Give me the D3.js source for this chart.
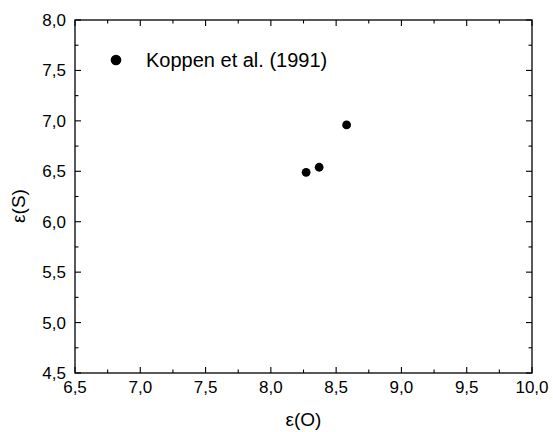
<!DOCTYPE html>
<html>
<head>
<meta charset="utf-8">
<script src="https://cdn.jsdelivr.net/npm/d3@7"></script>
<style>
  html, body { margin: 0; padding: 0; background: #fff; }
  svg { display: block; }
  text { font-family: "Liberation Sans", Arial, sans-serif; fill: #000; }
</style>
</head>
<body>
<svg id="chart" width="553" height="432"></svg>
<script>
// Koppen et al. (1991) measurements
const epsO = [8.27, 8.37, 8.58];
const epsS = [6.49, 6.54, 6.96];
const seriesLabel = "Koppen et al. (1991)";
const xTicks = [6.5, 7.0, 7.5, 8.0, 8.5, 9.0, 9.5, 10.0];
const yTicks = [4.5, 5.0, 5.5, 6.0, 6.5, 7.0, 7.5, 8.0];
const xMinor = [6.75, 7.25, 7.75, 8.25, 8.75, 9.25, 9.75];
const yMinor = [4.75, 5.25, 5.75, 6.25, 6.75, 7.25, 7.75];

const svg = d3.select("#chart");
const m = { left: 75, right: 532, top: 20, bottom: 373 };

const x = d3.scaleLinear().domain([6.5, 10.0]).range([m.left, m.right]);
const y = d3.scaleLinear().domain([4.5, 8.0]).range([m.bottom, m.top]);

const fmt = d => d3.format(".1f")(d).replace(".", ",");

// frame
svg.append("rect")
  .attr("x", m.left).attr("y", m.top)
  .attr("width", m.right - m.left).attr("height", m.bottom - m.top)
  .attr("fill", "none").attr("stroke", "#000").attr("stroke-width", 1.3);

const tickG = svg.append("g").attr("stroke", "#000").attr("stroke-width", 1.1);
const major = 6, minor = 3.5;
// inward ticks on all four sides
xTicks.forEach(v => {
  tickG.append("line").attr("x1", x(v)).attr("x2", x(v)).attr("y1", m.bottom).attr("y2", m.bottom - major);
  tickG.append("line").attr("x1", x(v)).attr("x2", x(v)).attr("y1", m.top).attr("y2", m.top + major);
});
xMinor.forEach(v => {
  tickG.append("line").attr("x1", x(v)).attr("x2", x(v)).attr("y1", m.bottom).attr("y2", m.bottom - minor);
  tickG.append("line").attr("x1", x(v)).attr("x2", x(v)).attr("y1", m.top).attr("y2", m.top + minor);
});
yTicks.forEach(v => {
  tickG.append("line").attr("y1", y(v)).attr("y2", y(v)).attr("x1", m.left).attr("x2", m.left + major);
  tickG.append("line").attr("y1", y(v)).attr("y2", y(v)).attr("x1", m.right).attr("x2", m.right - major);
});
yMinor.forEach(v => {
  tickG.append("line").attr("y1", y(v)).attr("y2", y(v)).attr("x1", m.left).attr("x2", m.left + minor);
  tickG.append("line").attr("y1", y(v)).attr("y2", y(v)).attr("x1", m.right).attr("x2", m.right - minor);
});

// tick labels
svg.append("g").selectAll("text").data(xTicks).join("text")
  .attr("x", d => x(d)).attr("y", m.bottom + 20)
  .attr("text-anchor", "middle").attr("font-size", 17).text(fmt);
svg.append("g").selectAll("text").data(yTicks).join("text")
  .attr("x", m.left - 9).attr("y", d => y(d) + 6)
  .attr("text-anchor", "end").attr("font-size", 17).text(fmt);

// axis titles
svg.append("text").attr("x", (m.left + m.right) / 2).attr("y", 426)
  .attr("text-anchor", "middle").attr("font-size", 19).text("ε(O)");
svg.append("text").attr("transform", "translate(25,206) rotate(-90)")
  .attr("text-anchor", "middle").attr("font-size", 19).text("ε(S)");

// data points
svg.append("g").selectAll("circle").data(epsO.map((d, i) => [d, epsS[i]])).join("circle")
  .attr("cx", d => x(d[0])).attr("cy", d => y(d[1])).attr("r", 4.4).attr("fill", "#000");

// legend
svg.append("circle").attr("cx", 116).attr("cy", 60).attr("r", 5.3).attr("fill", "#000");
svg.append("text").attr("x", 146).attr("y", 67).attr("font-size", 20).text(seriesLabel);
</script>
</body>
</html>
